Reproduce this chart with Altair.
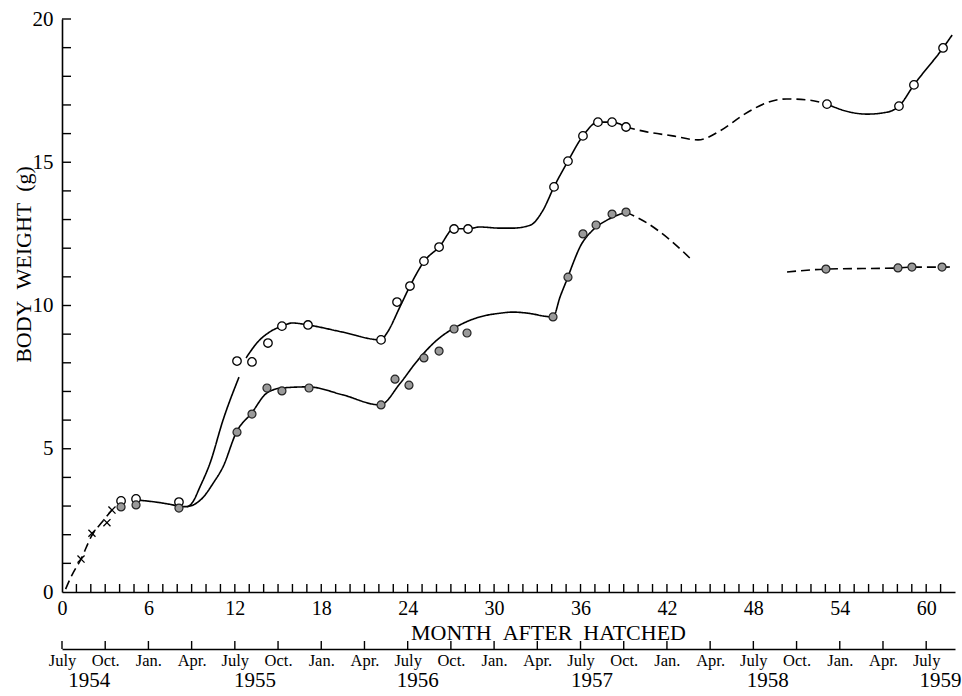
import altair as alt
import pandas as pd

# Plot-area size in pixels (the whole figure is sized through padding below)
W, H = 893, 573
X_MAX, Y_MAX = 62, 20

# --- measured body weights (g) against months after hatching -------------
open_month = [4.10, 5.14, 8.12, 12.15, 13.19, 14.30, 15.27, 17.08, 22.15, 23.26,
              24.16, 25.13, 26.18, 27.22, 28.19, 34.16, 35.13, 36.17, 37.21, 38.19,
              39.16, 53.11, 58.11, 59.15, 61.17]
open_weight = [3.18, 3.25, 3.14, 8.06, 8.03, 8.69, 9.28, 9.32, 8.80, 10.12,
               10.68, 11.55, 12.04, 12.67, 12.67, 14.14, 15.04, 15.92, 16.40, 16.40,
               16.23, 17.03, 16.96, 17.70, 18.99]

filled_month = [4.10, 5.14, 8.12, 12.15, 13.19, 14.23, 15.27, 17.15, 22.15, 23.12,
                24.09, 25.13, 26.18, 27.22, 28.12, 34.09, 35.13, 36.17, 37.08, 38.19,
                39.16, 53.04, 58.04, 59.01, 61.10]
filled_weight = [2.97, 3.04, 2.93, 5.58, 6.21, 7.12, 7.02, 7.12, 6.53, 7.43,
                 7.22, 8.17, 8.41, 9.18, 9.04, 9.60, 10.99, 12.50, 12.81, 13.19,
                 13.26, 11.27, 11.31, 11.34, 11.34]

cross_month = [1.32, 2.08, 3.12, 3.47]
cross_weight = [1.15, 2.05, 2.42, 2.86]

# --- hand-fitted growth curves, one entry per drawn stroke ----------------
curves = {
    "early":   ("dashed",
                [0.25, 0.7, 1.32, 2.08, 2.8, 3.5],
                [0.10, 0.6, 1.15, 1.98, 2.45, 2.88]),
    "upper_a": ("solid",
                [5.42, 6.5, 7.6, 8.3, 8.68, 9.05, 9.58, 10.28, 11.18, 12.29],
                [3.20, 3.14, 3.05, 2.98, 2.98, 3.12, 3.67, 4.50, 6.00, 7.50]),
    "lower_a": ("solid",
                [8.68, 9.2, 9.79, 10.5, 11.18, 12.12, 13.17, 14.21, 15.25, 17.08,
                 19.5, 22.08, 23.47, 24.62, 25.78, 27.86, 29.0, 30.4, 31.3, 32.5,
                 33.6, 34.09, 34.58, 35.13, 35.48, 35.97, 36.87, 37.84, 39.16],
                [2.98, 3.06, 3.30, 3.80, 4.37, 5.59, 6.25, 6.94, 7.12, 7.16,
                 6.88, 6.53, 7.28, 8.04, 8.68, 9.38, 9.60, 9.73, 9.77, 9.72,
                 9.62, 9.60, 10.30, 11.00, 11.47, 12.05, 12.64, 12.98, 13.26]),
    "upper_b": ("solid",
                [12.78, 13.6, 14.4, 15.27, 16.0, 17.08, 19.5, 22.15, 22.56, 23.47,
                 24.16, 25.16, 26.2, 27.22, 28.21, 29.0, 30.4, 31.3, 32.5, 33.4,
                 34.16, 35.13, 36.17, 37.21, 38.19, 39.16],
                [8.17, 8.73, 9.07, 9.28, 9.39, 9.32, 9.07, 8.80, 9.04, 9.96,
                 10.68, 11.55, 12.05, 12.68, 12.68, 12.74, 12.70, 12.70, 12.80, 13.33,
                 14.14, 15.04, 15.92, 16.40, 16.40, 16.23]),
    "upper_c": ("dashed",
                [39.16, 40.6, 42.4, 44.16, 45.7, 47.3, 48.9, 50.3, 51.9, 53.11],
                [16.23, 16.06, 15.92, 15.78, 16.10, 16.65, 17.07, 17.21, 17.17, 17.03]),
    "upper_d": ("solid",
                [53.11, 54.7, 55.9, 57.3, 58.11, 59.15, 61.17, 61.8],
                [17.03, 16.75, 16.68, 16.75, 16.96, 17.70, 18.99, 19.44]),
    "lower_b": ("dashed",
                [39.16, 40.62, 42.21, 43.81],
                [13.26, 12.88, 12.29, 11.55]),
    "lower_c": ("dashed",
                [50.34, 53.04, 58.04, 59.01, 61.10, 61.86],
                [11.17, 11.27, 11.31, 11.34, 11.34, 11.35]),
}

# --- axis annotations -----------------------------------------------------
month_labels = [0, 6, 12, 18, 24, 30, 36, 42, 48, 54, 60]
month_ticks = list(range(1, 62))
weight_labels = [0, 5, 10, 15, 20]
weight_ticks = list(range(1, 21))
season_names = ["July", "Oct.", "Jan.", "Apr."]
season_months = list(range(0, 61, 3))
years = ["1954", "1955", "1956", "1957", "1958", "1959"]
year_at_month = [1.9, 13.4, 24.7, 36.8, 49.0, 61.0]

FONT = "Liberation Serif"

rows = []
for name, (style, ms, ws) in curves.items():
    for i, (m, w) in enumerate(zip(ms, ws)):
        rows.append({"month": m, "weight": w, "seg": name, "style": style, "order": i})
curve_df = pd.DataFrame(rows)

xs = alt.Scale(domain=[0, X_MAX], nice=False, zero=False)
ys = alt.Scale(domain=[0, Y_MAX], nice=False, zero=False)

month_axis = alt.Axis(
    values=month_labels, ticks=False, tickSize=0, grid=False, domain=True,
    domainColor="black", domainWidth=1.6, labelFontSize=20, labelPadding=6,
    labelColor="black", labelOverlap=False, labelFlush=False, labelFont=FONT,
    title="MONTH\u00a0\u00a0AFTER\u00a0\u00a0HATCHED", titleFont=FONT, titleFontSize=22,
    titleFontWeight="normal", titleColor="black", titleX=486, titleY=40,
    titleAlign="center", titleBaseline="middle",
)
weight_axis = alt.Axis(
    values=weight_labels, ticks=False, tickSize=0, grid=False, domain=True,
    domainColor="black", domainWidth=1.6, labelFontSize=21, labelPadding=9,
    labelColor="black", labelFont=FONT, labelOverlap=False, labelFlush=False,
    title="BODY\u00a0\u00a0WEIGHT\u00a0\u00a0(g)", titleFont=FONT, titleFontSize=22,
    titleFontWeight="normal", titleColor="black", titleX=-39, titleY=245,
    titleAngle=270, titleAlign="center", titleBaseline="middle",
)
season_expr = "[" + ",".join("'%s'" % s for s in season_names) + "][round(datum.value / 3) % 4]"
season_axis = alt.Axis(
    orient="bottom", offset=57, values=season_months, ticks=False, tickSize=0,
    grid=False, domain=True, domainColor="black", domainWidth=1.6,
    labelFontSize=16.5, labelPadding=3, labelColor="black", labelFont=FONT,
    labelOverlap=False, labelFlush=False, labelExpr=season_expr, title=None,
)

lines = alt.Chart(curve_df).mark_line(
    color="black", strokeWidth=1.6, interpolate="monotone"
).encode(
    x=alt.X("month:Q", scale=xs, axis=month_axis),
    y=alt.Y("weight:Q", scale=ys, axis=weight_axis),
    detail="seg:N",
    order=alt.Order("order:Q"),
    strokeDash=alt.StrokeDash("style:N", legend=None,
                              scale=alt.Scale(domain=["solid", "dashed"],
                                              range=[[1, 0], [9, 5]])),
)

y_ticks = alt.Chart(pd.DataFrame({"weight": weight_ticks})).mark_rule(
    color="black", strokeWidth=1.4
).encode(
    y=alt.Y("weight:Q", scale=ys, axis=None), x=alt.value(0), x2=alt.value(9)
)

x_ticks = alt.Chart(pd.DataFrame({"month": month_ticks})).mark_rule(
    color="black", strokeWidth=1.4
).encode(
    x=alt.X("month:Q", scale=xs, axis=None), y=alt.value(H), y2=alt.value(H - 8)
)

season_ticks = alt.Chart(pd.DataFrame({"month": season_months})).mark_rule(
    color="black", strokeWidth=1.4
).encode(
    x=alt.X("month:Q", scale=xs, axis=season_axis),
    y=alt.value(H + 57), y2=alt.value(H + 49),
)

year_text = alt.Chart(pd.DataFrame({"month": year_at_month, "year": years})).mark_text(
    font=FONT, fontSize=21, color="black", baseline="middle", align="center"
).encode(
    x=alt.X("month:Q", scale=xs, axis=None), y=alt.value(H + 89), text="year:N"
)

open_pts = alt.Chart(pd.DataFrame({"month": open_month, "weight": open_weight})).mark_point(
    shape="circle", size=72, filled=True, fill="white", stroke="black",
    strokeWidth=1.3, opacity=1
).encode(
    x=alt.X("month:Q", scale=xs, axis=None), y=alt.Y("weight:Q", scale=ys, axis=None)
)

filled_pts = alt.Chart(pd.DataFrame({"month": filled_month, "weight": filled_weight})).mark_point(
    shape="circle", size=64, filled=True, fill="#9a9a9a", stroke="#222222",
    strokeWidth=1.2, opacity=1
).encode(
    x=alt.X("month:Q", scale=xs, axis=None), y=alt.Y("weight:Q", scale=ys, axis=None)
)

cross_pts = alt.Chart(pd.DataFrame({"month": cross_month, "weight": cross_weight})).mark_point(
    shape="M-1,-1L1,1M-1,1L1,-1", size=50, filled=False, stroke="black",
    strokeWidth=1.3, opacity=1
).encode(
    x=alt.X("month:Q", scale=xs, axis=None), y=alt.Y("weight:Q", scale=ys, axis=None)
)

chart = alt.layer(
    lines, y_ticks, x_ticks, season_ticks, year_text, open_pts, filled_pts, cross_pts
).resolve_axis(
    x="independent", y="independent"
).properties(
    width=W, height=H,
    autosize=alt.AutoSizeParams(type="none"),
    padding={"left": 62, "top": 19, "right": 7, "bottom": 104},
    background="white",
).configure_view(stroke=None)

chart.save("out.html", embed_options={"renderer": "svg", "actions": False})
